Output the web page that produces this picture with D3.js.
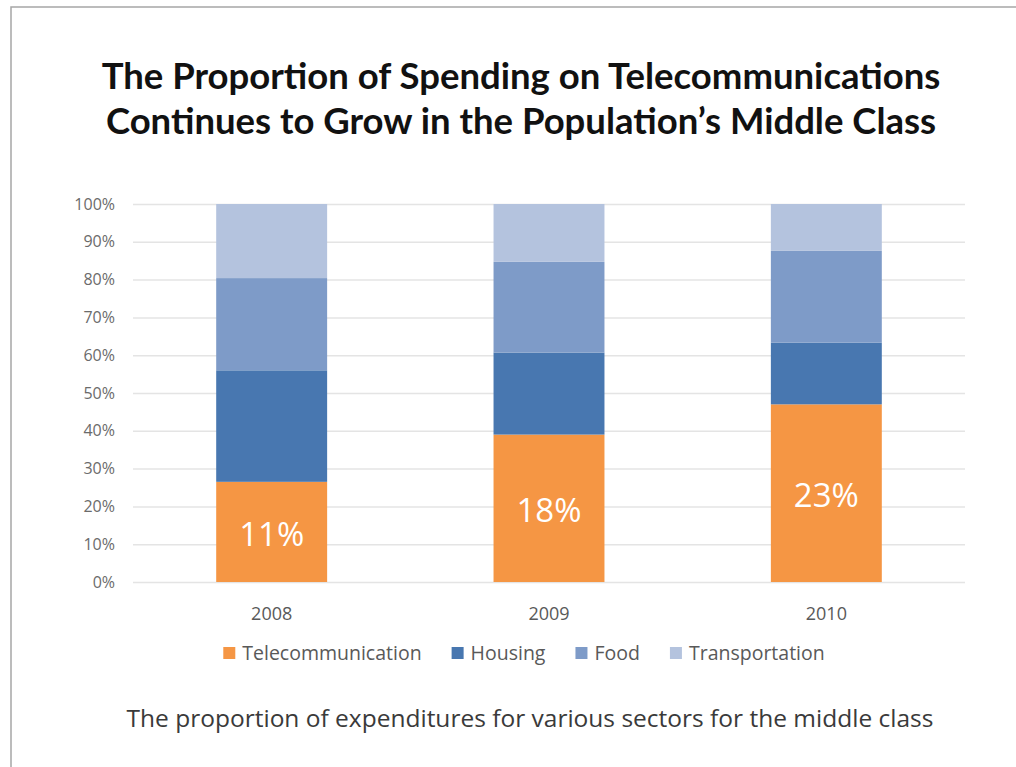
<!DOCTYPE html>
<html>
<head>
<meta charset="utf-8">
<script src="https://cdn.jsdelivr.net/npm/d3@7"></script>
<style>
  html, body { margin: 0; padding: 0; background: #fff; }
  svg { display: block; }
</style>
</head>
<body>
<svg id="chart" width="1016" height="767"></svg>
<script>
// Years on the category axis
const years = ["2008", "2009", "2010"];

// Share of middle-class spending per sector (percent of total, per year)
const telecommunication = [26.5, 39.0, 47.0];
const housing           = [29.5, 21.7, 16.3];
const food              = [24.4, 24.0, 24.3];
const transportation    = [19.6, 15.3, 12.4];

// Text printed on the telecommunication segments
const telecomLabels = ["11%", "18%", "23%"];

// Series names, in stacking order (bottom to top)
const seriesNames = ["Telecommunication", "Housing", "Food", "Transportation"];
const seriesColors = ["#F59644", "#4877B0", "#7E9BC8", "#B4C3DE"];

// Y axis ticks
const yTicks = [0, 10, 20, 30, 40, 50, 60, 70, 80, 90, 100];

const titleLines = [
  "The Proportion of Spending on Telecommunications",
  "Continues to Grow in the Population\u2019s Middle Class"
];
const caption = "The proportion of expenditures for various sectors for the middle class";

const svg = d3.select("#chart");
const W = 1016, H = 767;

// frame around the figure (top and left edges)
svg.append("path")
  .attr("d", `M11,${H} L11,7 L${W},7`)
  .attr("fill", "none")
  .attr("stroke", "#a6a6a6")
  .attr("stroke-width", 1.5);

// title
svg.append("g")
  .selectAll("text")
  .data(titleLines)
  .join("text")
  .attr("x", 521)
  .attr("y", (d, i) => 89 + i * 45)
  .attr("text-anchor", "middle")
  .attr("font-family", "Lato, 'Open Sans', sans-serif")
  .attr("font-weight", 700)
  .attr("font-size", 36.5)
  .attr("fill", "#111")
  .text(d => d);

// plot area
const plot = { left: 133, right: 965, top: 204, bottom: 582 };

const x = d3.scaleBand()
  .domain(years)
  .range([plot.left, plot.right])
  .paddingInner(0.6)
  .paddingOuter(0.3);

const y = d3.scaleLinear()
  .domain([0, 100])
  .range([plot.bottom, plot.top]);

// table for stacking
const rows = years.map((yr, i) => ({
  year: yr,
  Telecommunication: telecommunication[i],
  Housing: housing[i],
  Food: food[i],
  Transportation: transportation[i]
}));
const stacked = d3.stack().keys(seriesNames)(rows);
const color = d3.scaleOrdinal().domain(seriesNames).range(seriesColors);

// gridlines + tick labels
const yAxis = d3.axisLeft(y)
  .tickValues(yTicks)
  .tickSize(-(plot.right - plot.left))
  .tickPadding(18)
  .tickFormat(d => d + "%");

const yg = svg.append("g")
  .attr("transform", `translate(${plot.left},0)`)
  .call(yAxis);
yg.select(".domain").remove();
yg.selectAll(".tick line")
  .attr("stroke", "#e4e4e4")
  .attr("stroke-width", 1.5);
yg.selectAll(".tick text")
  .attr("font-family", "'Open Sans', sans-serif")
  .attr("font-size", 16)
  .attr("fill", "#6b6b6b");

// stacked bars
svg.append("g")
  .selectAll("g")
  .data(stacked)
  .join("g")
  .attr("fill", d => color(d.key))
  .selectAll("rect")
  .data(d => d)
  .join("rect")
  .attr("x", d => x(d.data.year))
  .attr("width", x.bandwidth())
  .attr("y", d => y(d[1]))
  .attr("height", d => y(d[0]) - y(d[1]));

// labels on the telecommunication segments
svg.append("g")
  .selectAll("text")
  .data(stacked[0])
  .join("text")
  .attr("x", d => x(d.data.year) + x.bandwidth() / 2)
  .attr("y", d => (y(d[0]) + y(d[1])) / 2)
  .attr("dy", "0.42em")
  .attr("text-anchor", "middle")
  .attr("font-family", "'Open Sans', sans-serif")
  .attr("font-size", 33)
  .attr("fill", "#fff")
  .text((d, i) => telecomLabels[i]);

// category axis labels
const xAxis = d3.axisBottom(x).tickSize(0).tickPadding(25);
const xg = svg.append("g")
  .attr("transform", `translate(0,${plot.bottom})`)
  .call(xAxis);
xg.select(".domain").remove();
xg.selectAll(".tick text")
  .attr("font-family", "'Open Sans', sans-serif")
  .attr("font-size", 18)
  .attr("fill", "#595959");

// legend, laid out from measured text widths and centred
const legend = svg.append("g").attr("transform", "translate(0,653)");
const items = legend.selectAll("g")
  .data(seriesNames)
  .join("g");
items.append("rect")
  .attr("width", 12)
  .attr("height", 12)
  .attr("y", -6)
  .attr("fill", d => color(d));
items.append("text")
  .attr("x", 19)
  .attr("dy", "0.35em")
  .attr("font-family", "'Open Sans', sans-serif")
  .attr("font-size", 19.5)
  .attr("fill", "#595959")
  .text(d => d);
const widths = [];
items.each(function () {
  widths.push(19 + this.querySelector("text").getComputedTextLength());
});
const gap = 30;
const total = d3.sum(widths) + gap * (widths.length - 1);
let cursor = 524 - total / 2;
items.attr("transform", (d, i) => {
  const t = `translate(${cursor},0)`;
  cursor += widths[i] + gap;
  return t;
});

// caption
svg.append("text")
  .attr("x", 530)
  .attr("y", 727)
  .attr("text-anchor", "middle")
  .attr("font-family", "'Open Sans', sans-serif")
  .attr("font-size", 24.5)
  .attr("fill", "#3a3a3a")
  .text(caption);
</script>
</body>
</html>
